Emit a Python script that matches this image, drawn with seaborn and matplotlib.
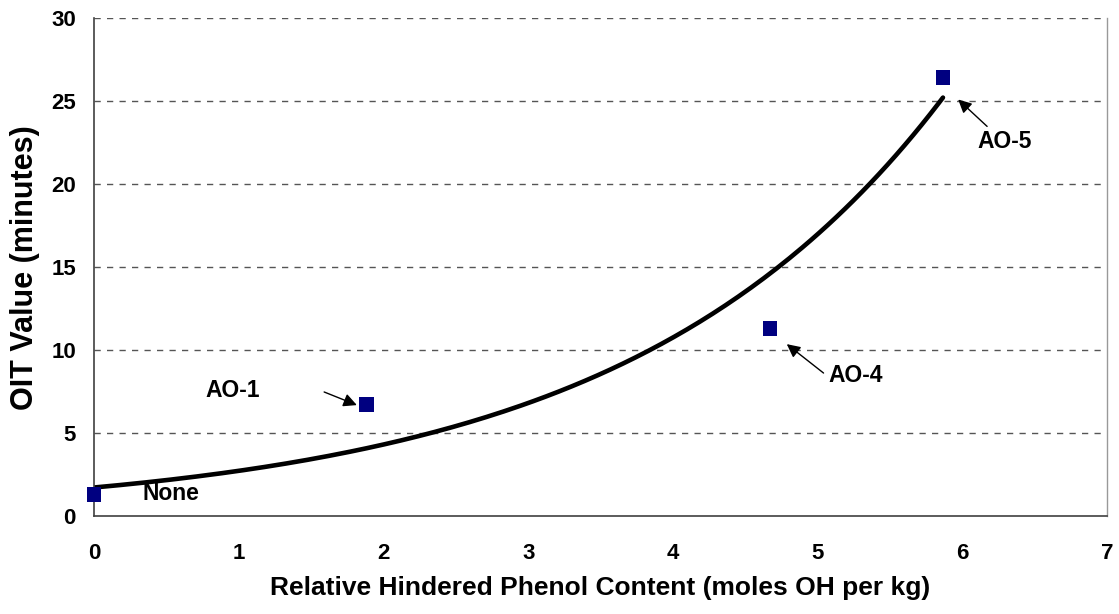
import numpy as np
import pandas as pd
import matplotlib
matplotlib.use("Agg")
import matplotlib.pyplot as plt
import seaborn as sns

# ---- data ----
phenol_content = [0.0, 1.883, 4.67, 5.865]
oit_minutes = [1.31, 6.72, 11.3, 26.42]
sample_labels = ["None", "AO-1", "AO-4", "AO-5"]
x_ticks = [0, 1, 2, 3, 4, 5, 6, 7]
y_ticks = [0, 5, 10, 15, 20, 25, 30]

df = pd.DataFrame({"x": phenol_content, "y": oit_minutes, "label": sample_labels})

# exponential trendline fitted to the data (as a spreadsheet trendline would)
b, ln_a = np.polyfit(df["x"], np.log(df["y"]), 1)
xs = np.linspace(min(phenol_content), max(phenol_content), 200)
trend = pd.DataFrame({"x": xs, "y": np.exp(ln_a) * np.exp(b * xs)})

sns.set_style("white")
plt.rcParams["font.family"] = ["Liberation Sans", "DejaVu Sans"]
plt.rcParams["text.color"] = "black"
plt.rcParams["axes.labelcolor"] = "black"
plt.rcParams["xtick.color"] = "black"
plt.rcParams["ytick.color"] = "black"

fig = plt.figure(figsize=(11.19, 6.14), dpi=100)
ax = fig.add_axes([0.084, 0.159, 0.9055, 0.8115])

for yv in y_ticks[1:]:
    ax.axhline(yv, color="#555555", lw=1.0, linestyle=(0, (4.5, 4.5)), zorder=0)

sns.lineplot(data=trend, x="x", y="y", color="black", lw=3.3, ax=ax, zorder=2)
sns.scatterplot(data=df, x="x", y="y", marker="s", s=110, color="#000080",
                edgecolor="none", linewidth=0, ax=ax, zorder=3, clip_on=False)

# label layout (positions in data coordinates)
label_text_pos = {"None": (0.53, 1.35), "AO-1": (0.96, 7.58),
                  "AO-4": (5.26, 8.51), "AO-5": (6.29, 22.58)}
arrow_pos = {"AO-1": ((1.59, 7.49), (1.816, 6.70)),
             "AO-4": ((5.04, 8.63), (4.786, 10.37)),
             "AO-5": ((6.17, 23.48), (5.97, 25.1))}
for lab in sample_labels:
    tx, ty = label_text_pos[lab]
    ax.text(tx, ty, lab, fontsize=16.5, fontweight="bold", ha="center", va="center")
    if lab in arrow_pos:
        tail, head = arrow_pos[lab]
        ax.annotate("", xy=head, xytext=tail,
                    arrowprops=dict(arrowstyle="-|>", color="black", lw=1.0,
                                    mutation_scale=20, shrinkA=0, shrinkB=0))

ax.set_xlim(0, 7)
ax.set_ylim(0, 30)
ax.set_xticks(x_ticks)
ax.set_yticks(y_ticks)
ax.tick_params(axis="both", direction="out", length=5, width=1.2, color="#404040",
               labelsize=16)
ax.tick_params(axis="x", pad=14)
ax.tick_params(axis="y", pad=8)
for t in ax.get_xticklabels() + ax.get_yticklabels():
    t.set_fontweight("bold")

ax.set_xlabel("Relative Hindered Phenol Content (moles OH per kg)", fontsize=19,
              fontweight="bold")
ax.set_ylabel("OIT Value (minutes)", fontsize=22, fontweight="bold")
ax.xaxis.set_label_coords(0.5, -0.1446)
ax.xaxis.label.set_va("center")
ax.yaxis.set_label_coords(-0.068, 0.5)
ax.yaxis.label.set_va("center")

ax.spines["top"].set_visible(False)
for s in ["left", "bottom"]:
    ax.spines[s].set_color("#404040")
    ax.spines[s].set_linewidth(1.2)
ax.spines["right"].set_color("#999999")
ax.spines["right"].set_linewidth(1.0)

fig.savefig("out.png", dpi=100)
